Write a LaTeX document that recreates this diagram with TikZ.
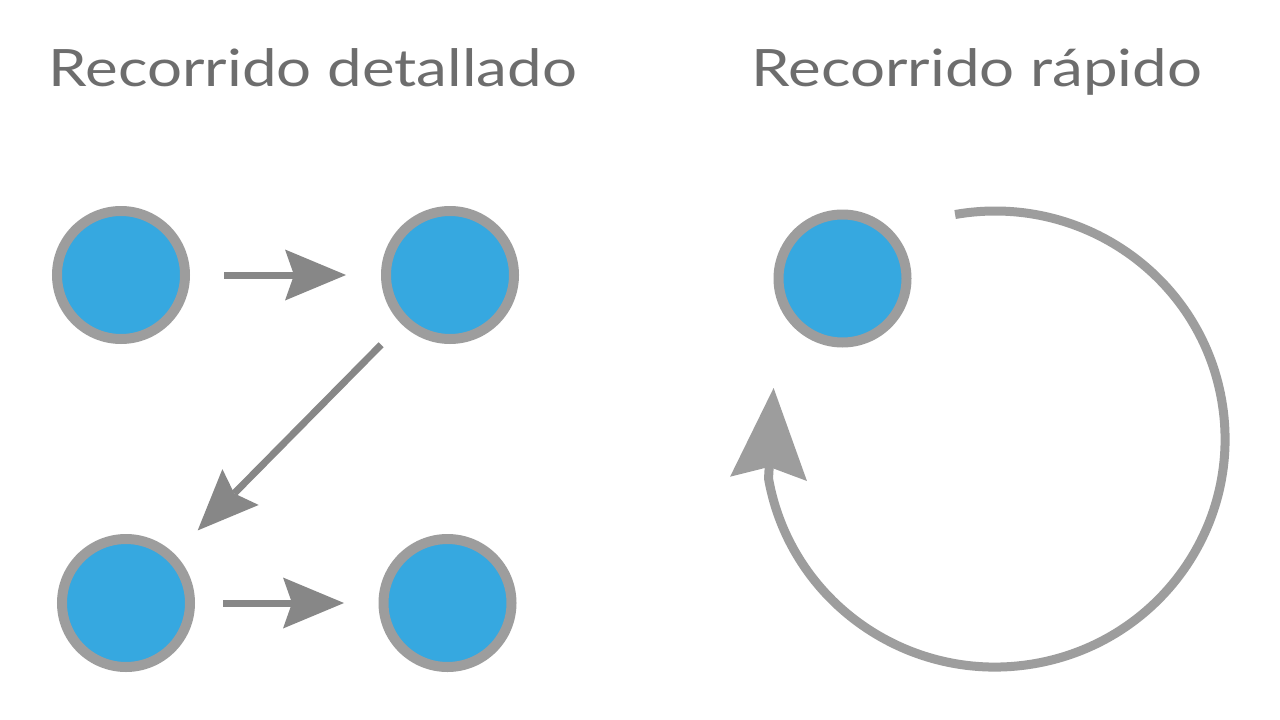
\documentclass[tikz,border=0pt]{standalone}
\usepackage{fontspec}
\setmainfont{Lato}
\usetikzlibrary{arrows.meta}
\definecolor{bluefill}{HTML}{36A8E0}
\definecolor{ringgray}{HTML}{9D9D9D}
\definecolor{arrowgray}{HTML}{878787}
\definecolor{titlegray}{HTML}{6D6D6D}
\tikzset{
  dot/.style={circle, draw=ringgray, fill=bluefill, line width=10pt, minimum size=128pt, inner sep=0pt},
  title/.style={text=titlegray, font=\fontsize{51.5}{60}\selectfont, anchor=base, inner sep=0pt, xscale=1.2},
  stepline/.style={draw=arrowgray, line width=7pt,
    -{Stealth[length=61pt, width=51pt, inset=9pt, line width=0pt]}},
  loopline/.style={draw=ringgray, line width=9pt,
    -{Stealth[length=91pt, width=77pt, inset=12pt, line width=0pt]}}
}
\begin{document}
\begin{tikzpicture}[x=1pt, y=-1pt]
\useasboundingbox (0,0) rectangle (1280,720);
\fill[white] (0,0) rectangle (1280,720);
% titles
\node[title] (t1) at (313,86) {Recorrido detallado};
\node[title] (t2) at (977,86) {Recorrido rápido};
% left graph
\node[dot] (c1) at (121,275) {};
\node[dot] (c2) at (450,275) {};
\node[dot] (c3) at (126,603) {};
\node[dot] (c4) at (447.5,603) {};
\draw[stepline, shorten <=34pt, shorten >=35pt] (c1) -- (c2);
\draw[stepline, shorten <=29pt, shorten >=33pt] (c2) -- (c3);
\draw[stepline, shorten <=28pt, shorten >=34.5pt] (c3) -- (c4);
% right graph
\node[dot] (c5) at (842.5,278.5) {};
\coordinate (loopstart) at (955.1,214.5);
\coordinate (looptip) at (773.6,388);
\draw[loopline] (loopstart) arc[start angle=260, end angle=530, x radius=230, y radius=228] -- (looptip);
\end{tikzpicture}
\end{document}
